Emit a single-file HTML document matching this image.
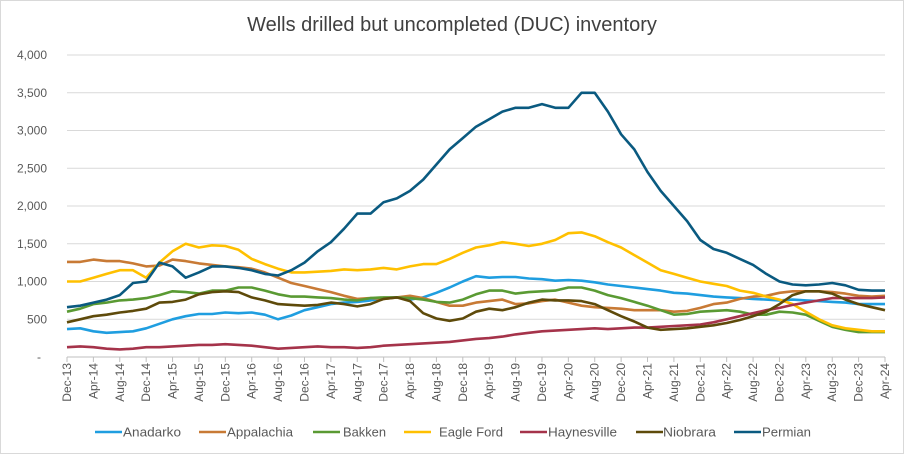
<!DOCTYPE html>
<html><head><meta charset="utf-8"><style>
body{margin:0;background:#fff;font-family:"Liberation Sans",sans-serif}
#wrap{width:902px;height:452px;border:1px solid #d9d9d9;position:relative}
</style></head><body>
<div id="wrap">
<svg id="chart" width="902" height="452"></svg>
</div>
<script>
const series = ["Anadarko","Appalachia","Bakken","Eagle Ford","Haynesville","Niobrara","Permian"];
const colors = ["#1f9ee0","#c87a35","#5a9a33","#ffc000","#a5334a","#5e4a0a","#0a5a80"];
const anadarko=[370,380,340,320,330,340,380,440,500,540,570,570,590,580,590,560,500,550,620,660,700,720,730,750,780,790,760,790,850,920,1000,1070,1050,1060,1060,1040,1030,1010,1020,1010,990,960,940,920,900,880,850,840,820,800,790,780,770,760,750,760,750,740,730,720,700,700,700];
const appalachia=[1260,1260,1290,1270,1270,1240,1200,1210,1290,1270,1240,1220,1200,1190,1170,1120,1050,980,940,900,860,810,770,780,770,790,810,780,730,680,680,720,740,760,700,710,740,760,720,680,660,650,640,620,620,620,600,610,650,700,720,770,800,810,850,870,870,870,860,840,810,800,810];
const bakken=[600,640,700,720,750,760,780,820,870,860,840,880,880,920,920,880,830,800,800,790,780,760,750,780,790,790,780,760,730,720,760,830,880,880,840,860,870,880,920,920,880,820,780,730,680,620,560,570,600,610,620,600,560,560,600,590,560,480,400,360,330,330,330];
const eagleFord=[1000,1000,1050,1100,1150,1150,1050,1250,1400,1500,1450,1480,1470,1420,1300,1230,1170,1120,1120,1130,1140,1160,1150,1160,1180,1160,1200,1230,1230,1300,1380,1450,1480,1520,1500,1470,1500,1550,1640,1650,1600,1520,1450,1350,1250,1150,1100,1050,1000,970,940,880,850,800,760,700,600,500,420,380,360,340,340];
const haynesville=[130,140,130,110,100,110,130,130,140,150,160,160,170,160,150,130,110,120,130,140,130,130,120,130,150,160,170,180,190,200,220,240,250,270,300,320,340,350,360,370,380,370,380,390,390,400,410,420,430,460,500,540,580,620,650,690,720,750,780,780,780,780,790];
const niobrara=[460,500,540,560,590,610,640,720,730,760,830,860,870,860,790,750,700,690,680,690,720,700,670,700,770,790,740,580,510,480,510,600,640,620,660,720,760,750,750,740,700,620,540,470,390,360,370,380,400,420,450,490,540,600,700,820,870,870,840,760,700,660,620];
const permian=[660,680,720,760,820,980,1000,1250,1200,1050,1120,1200,1200,1180,1150,1100,1080,1150,1250,1400,1520,1700,1900,1900,2050,2100,2200,2350,2550,2750,2900,3050,3150,3250,3300,3300,3350,3300,3300,3500,3500,3250,2950,2750,2450,2200,2000,1800,1550,1430,1380,1300,1220,1100,1000,960,950,960,980,950,890,880,880];
const values=[anadarko,appalachia,bakken,eagleFord,haynesville,niobrara,permian];
const yTicks=[0,500,1000,1500,2000,2500,3000,3500,4000];
const yTickLabels=["-","500","1,000","1,500","2,000","2,500","3,000","3,500","4,000"];
const xLabels=["Dec-13","Apr-14","Aug-14","Dec-14","Apr-15","Aug-15","Dec-15","Apr-16","Aug-16","Dec-16","Apr-17","Aug-17","Dec-17","Apr-18","Aug-18","Dec-18","Apr-19","Aug-19","Dec-19","Apr-20","Aug-20","Dec-20","Apr-21","Aug-21","Dec-21","Apr-22","Aug-22","Dec-22","Apr-23","Aug-23","Dec-23","Apr-24"];

const NS="http://www.w3.org/2000/svg";
const svg=document.getElementById('chart');
const X0=66,X1=884,Y0=356,Y1=54;
const xMonth=m=>X0+m*(X1-X0)/124;
const yVal=v=>Y0-v*(Y0-Y1)/4000;
function mk(tag,attrs,parent){const e=document.createElementNS(NS,tag);for(const k in attrs)e.setAttribute(k,attrs[k]);(parent||svg).appendChild(e);return e;}

const title=mk('text',{x:451,y:30,'text-anchor':'middle','font-size':20,fill:'#404040'});
title.textContent='Wells drilled but uncompleted (DUC) inventory';



yTicks.forEach((t,i)=>{
  if(t>0){const g=mk('line',{x1:X0,x2:X1,y1:yVal(t),y2:yVal(t),stroke:'#d9d9d9','stroke-width':1});
  
  }
  const l=mk('text',{x:i===0?40:46,y:yVal(t)+4,'text-anchor':'end','font-size':12,fill:'#595959'});
  l.textContent=yTickLabels[i];
  
  
});
const ax=mk('line',{x1:X0,x2:X1,y1:Y0,y2:Y0,stroke:'#bfbfbf','stroke-width':1});


xLabels.forEach((lab,i)=>{
  const x=xMonth(i*4);
  const tk=mk('line',{x1:x,x2:x,y1:Y0,y2:Y0+5,stroke:'#bfbfbf'});
  
  
  const t=mk('text',{x:x+4,y:Y0+6,'text-anchor':'end','font-size':12,fill:'#595959',transform:`rotate(-90 ${x+4} ${Y0+6})`});
  t.textContent=lab;
  
  
});
values.forEach((arr,s)=>{
  const d=arr.map((v,i)=>(i?'L':'M')+xMonth(i*2).toFixed(1)+','+yVal(v).toFixed(1)).join('');
  const p=mk('path',{d:d,fill:'none',stroke:colors[s],'stroke-width':2.6,'stroke-linejoin':'round'});
  
  
});
const legLine=[94,198,312,403,519,635,733];
const legText=[122,226,342,438,547,662,761];
const legW=[58,66,43,64,69,53,49];
series.forEach((n,s)=>{
  const g=mk('g',{});
  
  
  mk('line',{x1:legLine[s],x2:legLine[s]+27,y1:431,y2:431,stroke:colors[s],'stroke-width':2.6},g);
  const t=mk('text',{x:legText[s],y:435.5,'font-size':13,fill:'#595959',textLength:legW[s],lengthAdjust:'spacingAndGlyphs'},g);
  t.textContent=n;
});
</script>
</body></html>
